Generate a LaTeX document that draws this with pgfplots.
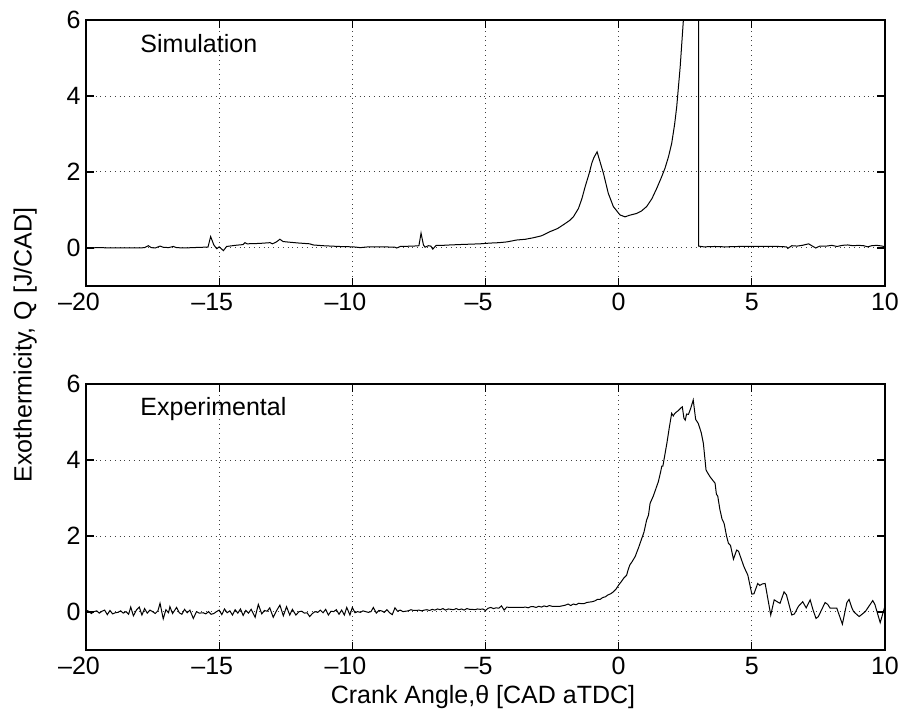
\documentclass[border=0pt]{standalone}
\usepackage{pgfplots}
\pgfplotsset{compat=1.18}
\usepackage{fontspec}
\setmainfont{Liberation Sans}

\begin{document}
\begin{tikzpicture}
\pgfplotsset{
  myaxis/.style={
    scale only axis, width=399.5pt, height=133pt,
    xmin=-20, xmax=10, ymin=-1, ymax=6,
    xtick={-20,-15,-10,-5,0,5,10},
    xticklabels={\llap{–}20,\llap{–}15,\llap{–}10,\llap{–}5,0,5,10},
    ytick={0,2,4,6},
    yticklabels={0,2,4,6},
    tick label style={font=\fontsize{12.5}{14}\selectfont},
    yticklabel style={inner xsep=2.5pt},
    xticklabel style={inner ysep=3.5pt},
    tick align=inside,
    major tick length=4pt,
    grid=major,
    major grid style={black!75, dotted, line width=0.5pt},
    axis line style={line width=0.6pt},
    every tick/.style={black, line width=0.6pt},
    clip=true,
  }
}
\begin{axis}[myaxis, at={(43pt,213pt)}, anchor=south west]
\addplot[black, line width=0.5pt] coordinates {
(-20,0) (-19.5,0.01) (-19,0) (-18.5,0) (-18,0) (-17.8,0.01) (-17.66,0.06) (-17.55,0.01)
(-17.4,0.0) (-17.22,0.05) (-17.1,0.02) (-16.9,0.01) (-16.72,0.04) (-16.6,0.01) (-16.3,0.0)
(-16.0,0.01) (-15.6,0.02) (-15.42,0.02) (-15.32,0.30) (-15.2,0.08) (-15.09,-0.02) (-15.0,0.03)
(-14.84,-0.07) (-14.72,0.04) (-14.4,0.07) (-14.1,0.09) (-14.03,0.14) (-13.95,0.11) (-13.5,0.12)
(-13.09,0.14) (-13.0,0.11) (-12.85,0.16) (-12.72,0.23) (-12.6,0.17) (-12.47,0.16) (-12.0,0.13)
(-11.6,0.11) (-11.47,0.08) (-11.1,0.06) (-10.5,0.04) (-9.96,0.03) (-9.7,0.01) (-9.4,0.03)
(-8.8,0.03) (-8.4,0.02) (-8.33,0.0) (-8.2,0.04) (-7.7,0.05) (-7.5,0.06) (-7.42,0.39)
(-7.33,0.08) (-7.27,0.02) (-7.15,0.06) (-7.05,0.05) (-6.98,-0.03) (-6.85,0.07) (-6.6,0.07)
(-6.33,0.08) (-6.0,0.09) (-5.6,0.1) (-5.2,0.11) (-5.02,0.12) (-4.8,0.13) (-4.5,0.14)
(-4.2,0.16) (-3.83,0.21) (-3.5,0.23) (-3.2,0.27) (-2.9,0.32) (-2.58,0.43) (-2.3,0.51)
(-2.08,0.61) (-1.85,0.72) (-1.70,0.82) (-1.51,1.04) (-1.38,1.3) (-1.26,1.61) (-1.1,1.98)
(-1.01,2.23) (-0.93,2.38) (-0.81,2.53) (-0.7,2.27) (-0.57,1.96) (-0.39,1.44) (-0.2,1.09)
(0.05,0.87) (0.24,0.82) (0.4,0.86) (0.68,0.91) (0.85,0.97) (1.05,1.09) (1.25,1.3)
(1.43,1.57) (1.6,1.85) (1.74,2.10) (1.87,2.4) (1.99,2.75) (2.1,3.25) (2.18,3.72)
(2.31,4.77) (2.43,6.0) (2.55,8) (3.0,8) (3.0,0.05)
(3.2,0.03) (3.6,0.04) (4.0,0.03) (4.5,0.04) (5.0,0.04) (5.5,0.04) (6.0,0.04) (6.3,0.03)
(6.35,-0.01) (6.5,0.06) (6.7,0.05) (6.9,0.07) (7.13,0.11) (7.25,0.06) (7.4,0.0) (7.55,0.05)
(7.8,0.05) (8.0,0.07) (8.2,0.04) (8.4,0.07) (8.6,0.08) (8.8,0.06) (9.0,0.07) (9.2,0.06)
(9.35,0.03) (9.5,0.06) (9.7,0.07) (9.9,0.05) (10.0,0.03)
};
\node[anchor=base west, inner sep=0pt, font=\fontsize{12.5}{14}\selectfont] at (axis cs:-17.97,5.14) {Simulation};
\end{axis}

\begin{axis}[myaxis, at={(43pt,31pt)}, anchor=south west]
\addplot[black, line width=0.5pt] coordinates {
(-20.0,0.05) (-19.9,0.02) (-19.8,-0.04) (-19.7,0.01) (-19.6,0.03) (-19.5,-0.03) (-19.4,0.02)
(-19.3,0.05) (-19.2,-0.07) (-19.1,0.04) (-19.0,-0.05) (-18.9,-0.02) (-18.8,-0.01) (-18.7,0.03)
(-18.6,-0.03) (-18.5,0.01) (-18.4,-0.06) (-18.32,0.13) (-18.22,-0.10) (-18.1,0.06) (-18.0,0.13)
(-17.9,-0.08) (-17.8,0.09) (-17.7,-0.03) (-17.6,0.05) (-17.5,0.01) (-17.4,-0.04) (-17.3,0.03)
(-17.22,0.23) (-17.1,-0.18) (-17.0,0.06) (-16.9,-0.02) (-16.85,0.14) (-16.75,-0.04) (-16.6,0.12)
(-16.5,-0.02) (-16.4,-0.06) (-16.3,0.07) (-16.2,-0.02) (-16.1,0.05) (-15.97,-0.17) (-15.85,0.01)
(-15.75,-0.03) (-15.6,-0.02) (-15.5,-0.05) (-15.4,0.01) (-15.3,-0.06) (-15.2,-0.04) (-15.1,0.01)
(-15.0,0.05) (-14.9,-0.07) (-14.8,0.08) (-14.7,-0.02) (-14.6,0.03) (-14.5,-0.08) (-14.4,0.06)
(-14.3,-0.03) (-14.2,0.08) (-14.1,-0.09) (-14.0,0.04) (-13.9,-0.03) (-13.8,0.07) (-13.65,-0.14)
(-13.53,0.20) (-13.4,-0.05) (-13.3,0.04) (-13.2,0.02) (-13.1,0.11) (-12.97,-0.14) (-12.85,0.03)
(-12.72,0.18) (-12.59,-0.10) (-12.47,0.14) (-12.35,-0.08) (-12.25,0.07) (-12.12,-0.08) (-12.0,0.01)
(-11.9,0.02) (-11.8,-0.03) (-11.7,-0.02) (-11.6,-0.12) (-11.5,-0.04) (-11.4,0.01) (-11.3,-0.01)
(-11.2,0.05) (-11.1,-0.02) (-11.0,0.07) (-10.9,-0.08) (-10.8,0.02) (-10.7,0.01) (-10.6,0.06)
(-10.5,-0.06) (-10.4,0.05) (-10.3,-0.08) (-10.21,0.12) (-10.09,-0.08) (-10.0,0.12) (-9.9,-0.02)
(-9.8,0.01) (-9.7,-0.01) (-9.6,0.03) (-9.5,0.01) (-9.4,-0.01) (-9.3,0.01) (-9.21,0.12)
(-9.1,-0.03) (-9.0,0.04) (-8.9,0.03) (-8.8,-0.01) (-8.7,0.06) (-8.6,-0.02) (-8.5,-0.07)
(-8.4,0.11) (-8.3,0.02) (-8.2,0.05) (-8.1,0.01) (-8.0,0.02) (-7.9,0.03) (-7.8,0.06)
(-7.7,0.04) (-7.6,0.04) (-7.5,0.05) (-7.4,0.03) (-7.3,0.05) (-7.2,0.06) (-7.1,0.04)
(-7.0,0.07) (-6.9,0.05) (-6.8,0.08) (-6.7,0.06) (-6.6,0.09) (-6.5,0.05) (-6.4,0.08)
(-6.3,0.07) (-6.2,0.06) (-6.1,0.09) (-6.0,0.06) (-5.9,0.08) (-5.8,0.05) (-5.7,0.09)
(-5.6,0.07) (-5.5,0.07) (-5.4,0.06) (-5.3,0.08) (-5.2,0.07) (-5.1,0.08) (-5.0,0.04)
(-4.9,0.1) (-4.8,0.12) (-4.7,0.09) (-4.6,0.11) (-4.5,0.1) (-4.4,0.16) (-4.3,0.05)
(-4.2,0.13) (-4.1,0.12) (-4.0,0.12) (-3.8,0.12) (-3.6,0.12) (-3.5,0.13) (-3.4,0.11)
(-3.3,0.14) (-3.2,0.14) (-3.1,0.12) (-3.0,0.15) (-2.9,0.13) (-2.8,0.16) (-2.7,0.14)
(-2.6,0.17) (-2.5,0.15) (-2.4,0.15) (-2.2,0.15) (-2.0,0.18) (-1.9,0.21) (-1.8,0.17)
(-1.7,0.21) (-1.6,0.19) (-1.5,0.23) (-1.4,0.22) (-1.3,0.22) (-1.2,0.25) (-1.1,0.26)
(-1.0,0.27) (-0.9,0.29) (-0.8,0.33) (-0.7,0.33) (-0.6,0.38) (-0.5,0.4) (-0.4,0.45)
(-0.3,0.48) (-0.2,0.53) (-0.1,0.6) (0.0,0.71) (0.1,0.8) (0.2,0.9) (0.3,0.97)
(0.35,1.1) (0.42,1.24) (0.5,1.32) (0.62,1.46) (0.75,1.7) (0.87,1.94) (0.95,2.1)
(1.05,2.42) (1.12,2.55) (1.18,2.86) (1.3,3.05) (1.4,3.25) (1.49,3.43) (1.58,3.7)
(1.62,3.84) (1.66,3.84) (1.75,4.2) (1.81,4.44) (1.9,4.85) (1.99,5.23) (2.05,5.16)
(2.1,5.22) (2.18,5.27) (2.24,5.30) (2.32,5.36) (2.39,5.40) (2.45,5.1) (2.5,5.05)
(2.55,5.21) (2.62,5.2) (2.7,5.35) (2.8,5.58) (2.89,5.07) (2.99,4.96) (3.1,4.72)
(3.18,4.44) (3.28,3.74) (3.35,3.65) (3.43,3.56) (3.55,3.45) (3.62,3.39) (3.67,3.1)
(3.72,3.05) (3.8,2.7) (3.88,2.45) (3.96,2.33) (4.05,2.0) (4.12,1.81) (4.2,1.75)
(4.31,1.39) (4.43,1.63) (4.5,1.6) (4.6,1.4) (4.7,1.2) (4.75,1.12) (4.85,0.97)
(5.0,0.47) (5.08,0.48) (5.22,0.75) (5.3,0.7) (5.4,0.74) (5.5,0.75) (5.71,-0.08)
(5.84,0.32) (6.0,0.25) (6.06,0.23) (6.21,0.53) (6.3,0.45) (6.5,-0.08) (6.6,-0.05)
(6.75,0.15) (6.91,0.27) (7.04,0.11) (7.19,0.32) (7.3,0.05) (7.41,-0.17) (7.5,-0.12)
(7.75,0.25) (7.85,0.2) (7.94,0.1) (8.19,0.1) (8.4,-0.32) (8.57,0.25) (8.65,0.33)
(8.75,0.12) (8.82,0.01) (9.03,-0.12) (9.26,0.01) (9.54,0.30) (9.62,0.2) (9.82,-0.28)
(10.0,0.16)
};
\node[anchor=base west, inner sep=0pt, font=\fontsize{12.5}{14}\selectfont] at (axis cs:-17.97,5.16) {Experimental};
\end{axis}

\node[rotate=90, anchor=base, inner sep=0pt, font=\fontsize{12.5}{14}\selectfont] at (15.85pt,183.5pt) {Exothermicity, Q [J/CAD]};
\node[anchor=base, inner sep=0pt, font=\fontsize{12.5}{14}\selectfont] at (241.5pt,4pt) {Crank Angle,θ [CAD aTDC]};

\pgfresetboundingbox
\path (0,0) rectangle (450.5pt,356pt);
\end{tikzpicture}
\end{document}
